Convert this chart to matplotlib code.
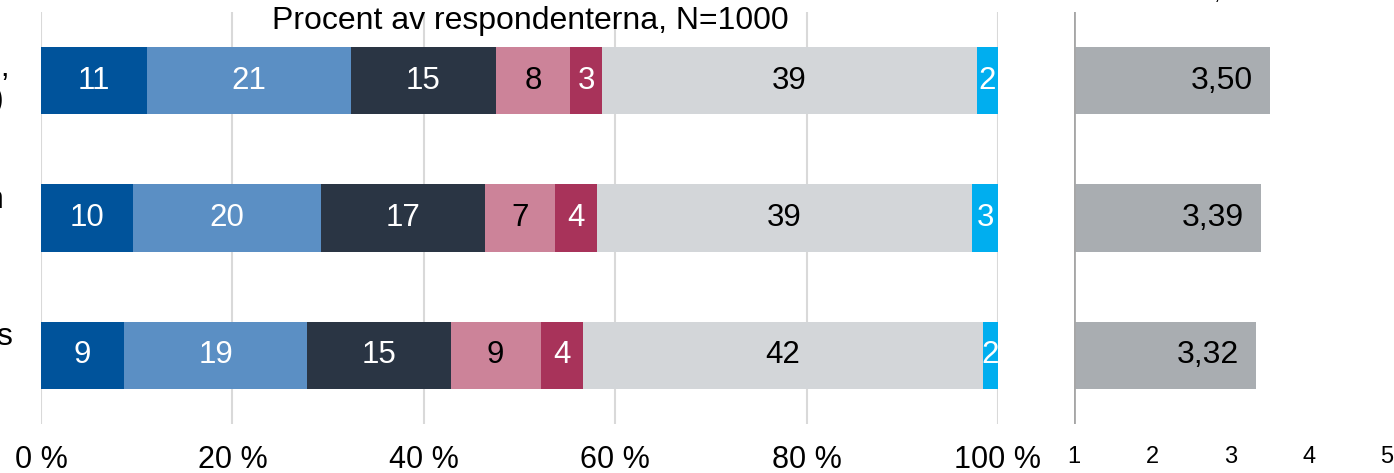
import matplotlib.pyplot as plt

plt.rcParams['font.family'] = ['Liberation Sans', 'DejaVu Sans']

# share of respondents per answer category (percent), one list per statement
row1 = [11.1, 21.3, 15.1, 7.8, 3.3, 39.2, 2.2]
row2 = [9.6, 19.7, 17.1, 7.3, 4.4, 39.2, 2.7]
row3 = [8.7, 19.1, 15.0, 9.4, 4.4, 41.8, 1.6]
means = [3.50, 3.39, 3.32]
mean_labels = ["3,50", "3,39", "3,32"]
pct_ticks = [0, 20, 40, 60, 80, 100]
pct_ticklabels = ["0 %", "20 %", "40 %", "60 %", "80 %", "100 %"]
mean_ticks = [1, 2, 3, 4, 5]

colors = ["#00539B", "#5B8FC4", "#2A3544", "#CC8399", "#A8335A", "#D3D6D9", "#00AEEF"]
seg_text = ["white", "white", "white", "black", "white", "black", "white"]

W, H = 1394, 473
fig = plt.figure(figsize=(W / 100, H / 100), dpi=100)

ax = fig.add_axes([41 / W, 1 - 424 / H, 957 / W, 412 / H])
ax2 = fig.add_axes([1074 / W, 1 - 424 / H, 313 / W, 412 / H])

rows = [row1, row2, row3]
for i, vals in enumerate(rows):
    left = 0
    for j, v in enumerate(vals):
        ax.barh(i, v, left=left, height=0.49, color=colors[j], zorder=2)
        ax.text(left + v / 2, i, str(int(round(v))), ha="center", va="center",
                fontsize=22.5, color=seg_text[j], zorder=3)
        left += v

ax.set_xlim(0, 100)
ax.set_ylim(2.5, -0.5)
ax.set_xticks(pct_ticks)
ax.set_xticklabels(pct_ticklabels)
ax.set_yticks([])
ax.tick_params(axis="x", length=0, pad=15, labelsize=22)
ax.grid(axis="x", color="#D9D9D9", linewidth=1.5, zorder=0)
for s in ax.spines.values():
    s.set_visible(False)

ax2.barh(range(3), [m - 1 for m in means], left=1, height=0.49, color="#A9ADB1", zorder=2)
for i, m in enumerate(means):
    ax2.annotate(mean_labels[i], (m, i), xytext=(-12, 0), textcoords="offset points",
                 ha="right", va="center", fontsize=23, color="black")
ax2.set_xlim(1, 5)
ax2.set_ylim(2.5, -0.5)
ax2.set_xticks(mean_ticks)
ax2.set_yticks([])
ax2.tick_params(axis="x", length=0, pad=16, labelsize=17)
for s in ax2.spines.values():
    s.set_visible(False)
ax2.axvline(1, color="#A6A6A6", linewidth=2, zorder=3)

fig.text(530 / W, 1 - 29 / H, "Procent av respondenterna, N=1000", ha="center",
         va="baseline", fontsize=23)
fig.text(1217 / W, 1 + 1 / H, ",", ha="center", va="baseline", fontsize=17)

# statement labels, cut off at the left edge as in the source
fig.text(10 / W, 1 - 76 / H, "g,", ha="right", va="baseline", fontsize=23)
fig.text(4 / W, 1 - 108 / H, ")", ha="right", va="baseline", fontsize=23)
fig.text(4 / W, 1 - 208 / H, "n", ha="right", va="baseline", fontsize=23)
fig.text(12 / W, 1 - 345 / H, "s", ha="right", va="baseline", fontsize=23)

fig.savefig("out.png", dpi=100)
